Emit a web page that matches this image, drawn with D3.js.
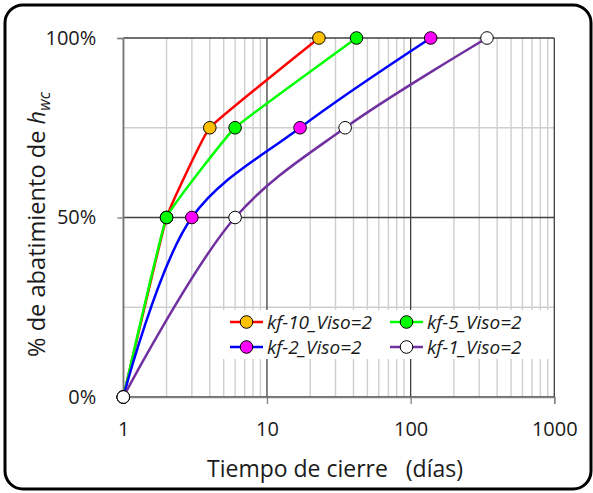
<!DOCTYPE html>
<html><head><meta charset="utf-8">
<script src="https://cdn.jsdelivr.net/npm/d3@7"></script>
<style>
html,body{margin:0;padding:0;background:#fff;}
text{font-family:"Open Sans",Lato,sans-serif;fill:#1a1a1a;}
</style></head>
<body><svg id="chart" width="593" height="493"></svg>
<script>
const seriesNames = ["kf-10_Viso=2","kf-5_Viso=2","kf-2_Viso=2","kf-1_Viso=2"];
const pctLevels = [0, 0.5, 0.75, 1];
const days_kf10 = [1, 2, 4, 23];
const days_kf5 = [1, 2, 6, 42];
const days_kf2 = [1, 3, 17, 138];
const days_kf1 = [1, 6, 35, 340];
const lineColors = ["#FF0000","#00FF00","#0000FF","#7030A0"];
const markerColors = ["#FFC000","#00FF00","#FF00FF","#FFFFFF"];
const smoothFlags = [false, false, true, true];
const xTickValues = [1, 10, 100, 1000];
const yTickValues = [0, 0.5, 1];

const allDays = [days_kf10, days_kf5, days_kf2, days_kf1];
const series = seriesNames.map((n,i)=>({name:n, line:lineColors[i], marker:markerColors[i], smooth:smoothFlags[i],
  pts: allDays[i].map((d,j)=>({x:d, y:pctLevels[j]}))}));

const svg = d3.select("#chart");
function fit(sel, target){
  const w = sel.node().getComputedTextLength();
  const fs = parseFloat(sel.attr("font-size"));
  sel.attr("font-size", fs*target/w);
  return fs*target/w;
}
svg.append("rect").attr("x",5).attr("y",5).attr("width",586).attr("height",484)
  .attr("rx",18).attr("ry",18).attr("fill","#fff").attr("stroke","#000").attr("stroke-width",3);

const x = d3.scaleLog().domain([1,1000]).range([123.3,554.3]);
const y = d3.scaleLinear().domain([0,1]).range([397,38]);

const g = svg.append("g");
const minor = [];
for (let dec=1; dec<1000; dec*=10) for (let k=2;k<=9;k++) minor.push(dec*k);
g.selectAll(".vminor").data(minor).join("line")
  .attr("x1",d=>x(d)).attr("x2",d=>x(d)).attr("y1",y(0)).attr("y2",y(1))
  .attr("stroke","#cfcfcf").attr("stroke-width",1.4);
g.selectAll(".hminor").data([0.25,0.75]).join("line")
  .attr("x1",x(1)).attr("x2",x(1000)).attr("y1",d=>y(d)).attr("y2",d=>y(d))
  .attr("stroke","#cfcfcf").attr("stroke-width",1.4);
g.selectAll(".vmajor").data(xTickValues).join("line")
  .attr("x1",d=>x(d)).attr("x2",d=>x(d)).attr("y1",y(0)).attr("y2",y(1))
  .attr("stroke","#404040").attr("stroke-width",1.3);
g.selectAll(".hmajor").data(yTickValues).join("line")
  .attr("x1",x(1)).attr("x2",x(1000)).attr("y1",d=>y(d)).attr("y2",d=>y(d))
  .attr("stroke","#404040").attr("stroke-width",1.3);

const xAxis = d3.axisBottom(x).tickValues(xTickValues).tickFormat(d3.format("d")).tickSize(7).tickPadding(18);
const gx = svg.append("g").attr("transform",`translate(0,${y(0)})`).call(xAxis);
gx.select(".domain").attr("stroke","#808080").attr("stroke-width",1.3);
gx.selectAll(".tick line").attr("stroke","#808080").attr("stroke-width",1.3);
gx.selectAll("text").attr("font-size",20).attr("fill","#1a1a1a").attr("font-family","Open Sans");

const yAxis = d3.axisLeft(y).tickValues(yTickValues).tickFormat(d3.format(".0%")).tickSize(6).tickPadding(21);
const gy = svg.append("g").attr("transform",`translate(${x(1)},0)`).call(yAxis);
gy.select(".domain").attr("stroke","#808080").attr("stroke-width",1.3);
gy.selectAll(".tick line").attr("stroke","#808080").attr("stroke-width",1.3);
gy.selectAll("text").attr("font-size",20).attr("fill","#1a1a1a").attr("font-family","Open Sans");

const smoothLine = d3.line().x(d=>x(d.x)).y(d=>y(d.y)).curve(d3.curveCatmullRom.alpha(0.5));
const gentleLine = d3.line().x(d=>x(d.x)).y(d=>y(d.y)).curve(d3.curveCardinal.tension(0.75));
series.forEach(s=>{
  svg.append("path").datum(s.pts).attr("d",s.smooth?smoothLine:gentleLine).attr("fill","none")
    .attr("stroke",s.line).attr("stroke-width",2.5).attr("stroke-linejoin","round");
});
series.forEach(s=>{
  svg.append("g").selectAll("circle").data(s.pts).join("circle")
    .attr("cx",d=>x(d.x)).attr("cy",d=>y(d.y)).attr("r",6.3)
    .attr("fill",s.marker).attr("stroke","#000").attr("stroke-width",1);
});

const lg = svg.append("g");
lg.append("rect").attr("x",223).attr("y",310).attr("width",330).attr("height",49).attr("fill","#fff");
const legPos = [[230,322],[390,322],[230,347],[390,347]];
let legFs = 18;
series.forEach((s,i)=>{
  const [lx,ly] = legPos[i];
  lg.append("line").attr("x1",lx).attr("x2",lx+33).attr("y1",ly).attr("y2",ly)
    .attr("stroke",s.line).attr("stroke-width",2.5);
  lg.append("circle").attr("cx",lx+16.5).attr("cy",ly).attr("r",6.3)
    .attr("fill",s.marker).attr("stroke","#000").attr("stroke-width",1);
  const t = lg.append("text").attr("x",lx+37).attr("y",ly).attr("dy","0.36em")
    .attr("font-size",legFs).attr("font-style","italic").text(s.name);
  if (i===0) legFs = fit(t,105); else t.attr("font-size",legFs);
});

const xt = svg.append("text").attr("x",335).attr("y",477).attr("text-anchor","middle")
  .attr("font-size",20).attr("xml:space","preserve").text("Tiempo de cierre   (días)");
fit(xt,256);
const yt = svg.append("text").attr("transform","translate(45,224.5) rotate(-90)")
  .attr("text-anchor","middle").attr("font-size",20);
yt.append("tspan").text("% de abatimiento de ");
yt.append("tspan").attr("font-style","italic").text("h");
yt.append("tspan").attr("font-style","italic").attr("font-size","0.68em").attr("dy",5).text("wc");
fit(yt,265);
</script></body></html>
